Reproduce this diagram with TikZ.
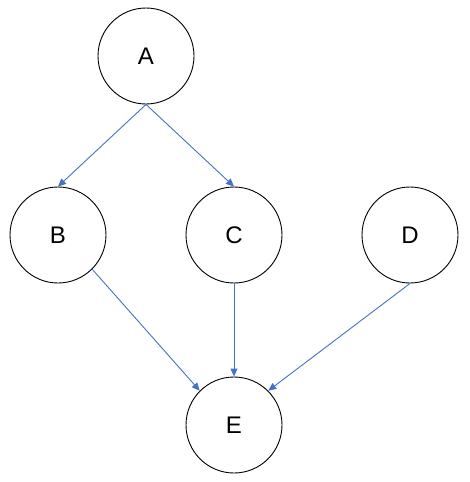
\documentclass[tikz,border=0pt]{standalone}
\usepackage{fontspec}
\setmainfont{Liberation Sans}
\usetikzlibrary{arrows.meta}
\definecolor{edgeblue}{HTML}{4472C4}
\begin{document}
\begin{tikzpicture}[x=1pt,y=-1pt,
  vnode/.style={circle,draw=black,line width=0.9pt,minimum size=96pt,inner sep=0pt,font=\fontsize{24}{28}\selectfont},
  edge/.style={draw=edgeblue,line width=0.9pt,-{Triangle[length=8pt,width=7pt]}}]
\useasboundingbox (0,0) rectangle (469,482);
\node[vnode] (A) at (146,56) {A};
\node[vnode] (B) at (58,235) {B};
\node[vnode] (C) at (234,235) {C};
\node[vnode] (D) at (410,235) {D};
\node[vnode] (E) at (234,425) {E};
\draw[edge] (A.south) -- (B.north);
\draw[edge] (A.south) -- (C.north);
\draw[edge] (B.south east) -- (E.north west);
\draw[edge] (C.south) -- (E.north);
\draw[edge] (D.south) -- (E.north east);
\end{tikzpicture}
\end{document}
